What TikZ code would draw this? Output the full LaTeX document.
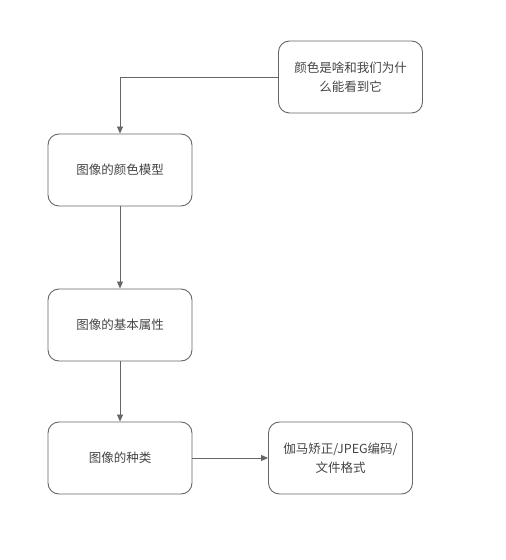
\documentclass[tikz,border=0pt]{standalone}
\usepackage{fontspec}
\setmainfont{Noto Sans CJK SC}
\definecolor{lineGray}{RGB}{102,102,102}
\definecolor{textGray}{RGB}{68,68,68}
\usepackage{tikz}
\usetikzlibrary{arrows.meta,positioning}

\begin{document}
\begin{tikzpicture}[
    x=1pt,y=1pt,
    every node/.style={font=\fontsize{12.5}{19}\selectfont, text=textGray},
    box/.style={draw=lineGray, line width=0.9pt, rounded corners=11pt,
      minimum width=144pt, minimum height=72pt, align=center},
    arr/.style={-{Triangle[length=7pt,width=6pt]}, draw=lineGray, line width=0.9pt}
  ]
    \useasboundingbox (0,0) rectangle (506,560);
    % Question box at the top
    \node[box] (why) at (350.5,483) {颜色是啥和我们为什\\么能看到它};
    % Main chain on the left
    \node[box] (model) at (120,390) {图像的颜色模型};
    \node[box] (attr) at (120,235) {图像的基本属性};
    \node[box] (kind) at (120,102) {图像的种类};
    % Side box
    \node[box] (misc) at (340.5,102) {伽马矫正/JPEG编码/\\文件格式};
    % Connectors
    \draw[arr] (why.west) -| (model.north);
    \draw[arr] (model) -- (attr);
    \draw[arr] (attr) -- (kind);
    \draw[arr] (kind) -- (misc);
\end{tikzpicture}
\end{document}
